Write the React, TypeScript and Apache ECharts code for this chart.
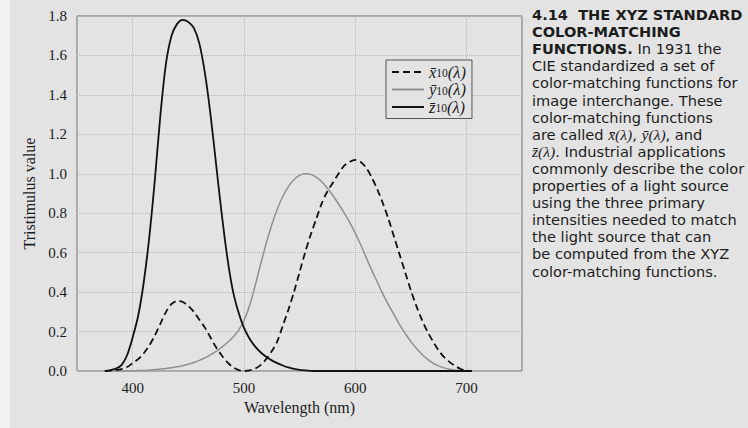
import React, { useEffect, useRef } from 'react';
import * as echarts from 'echarts';

const wavelengths = [375, 380, 385, 390, 395, 400, 405, 410, 415, 420, 425, 430, 435, 440, 445, 450, 455, 460, 465, 470, 475, 480, 485, 490, 495, 500, 505, 510, 515, 520, 525, 530, 535, 540, 545, 550, 555, 560, 565, 570, 575, 580, 585, 590, 595, 600, 605, 610, 615, 620, 625, 630, 635, 640, 645, 650, 655, 660, 665, 670, 675, 680, 685, 690, 695, 700, 705];
const xBar10 = [0, 0.002, 0.005, 0.01, 0.02, 0.04, 0.06, 0.09, 0.13, 0.18, 0.24, 0.3, 0.34, 0.355, 0.35, 0.33, 0.3, 0.26, 0.22, 0.17, 0.12, 0.08, 0.045, 0.02, 0.006, 0, 0.003, 0.012, 0.03, 0.06, 0.1, 0.15, 0.23, 0.31, 0.4, 0.5, 0.6, 0.69, 0.77, 0.85, 0.91, 0.955, 1.0, 1.04, 1.06, 1.07, 1.06, 1.03, 0.98, 0.92, 0.85, 0.77, 0.68, 0.59, 0.5, 0.41, 0.33, 0.26, 0.2, 0.15, 0.105, 0.07, 0.045, 0.025, 0.01, 0.003, 0];
const yBar10 = [0, 0, 0, 0, 0, 0.001, 0.002, 0.003, 0.005, 0.007, 0.01, 0.013, 0.017, 0.021, 0.027, 0.034, 0.043, 0.054, 0.067, 0.083, 0.1, 0.12, 0.143, 0.17, 0.205, 0.255, 0.33, 0.43, 0.54, 0.645, 0.74, 0.82, 0.885, 0.935, 0.97, 0.992, 1.0, 0.997, 0.983, 0.96, 0.928, 0.89, 0.848, 0.803, 0.755, 0.7, 0.64, 0.575, 0.51, 0.45, 0.39, 0.335, 0.285, 0.235, 0.19, 0.15, 0.115, 0.085, 0.06, 0.04, 0.026, 0.016, 0.009, 0.004, 0.001, 0, 0];
const zBar10 = [0, 0.005, 0.012, 0.03, 0.08, 0.17, 0.28, 0.45, 0.68, 0.97, 1.3, 1.56, 1.7, 1.76, 1.78, 1.77, 1.74, 1.66, 1.51, 1.3, 1.05, 0.8, 0.58, 0.41, 0.3, 0.22, 0.165, 0.125, 0.095, 0.072, 0.054, 0.04, 0.028, 0.018, 0.011, 0.006, 0.003, 0.001, 0, 0, 0, 0, 0, 0, 0, 0, 0, 0, 0, 0, 0, 0, 0, 0, 0, 0, 0, 0, 0, 0, 0, 0, 0, 0, 0, 0, 0];

const xTickLabels = [400, 500, 600, 700];
const seriesKeys = ['x', 'y', 'z'];

const captionLines = [
  '{b|4.14  THE XYZ STANDARD}',
  '{b|COLOR-MATCHING}',
  '{b|FUNCTIONS.}{r| In 1931 the}',
  '{r|CIE standardized a set of}',
  '{r|color-matching functions for}',
  '{r|image interchange. These}',
  '{r|color-matching functions}',
  '{r|are called }{m|x\u0304(\u03bb)}{r|, }{m|y\u0304(\u03bb)}{r|, and}',
  '{m|z\u0304(\u03bb)}{r|. Industrial applications}',
  '{r|commonly describe the color}',
  '{r|properties of a light source}',
  '{r|using the three primary}',
  '{r|intensities needed to match}',
  '{r|the light source that can}',
  '{r|be computed from the XYZ}',
  '{r|color-matching functions.}',
];

const BG = '#e3e3e3';
const INK = '#1c1c1c';
const SERIF = '"Liberation Serif", "DejaVu Serif", serif';
const SANS = '"DejaVu Sans", "Open Sans", sans-serif';

export default function App() {
  const ref = useRef<HTMLDivElement>(null);
  useEffect(() => {
    const chart = echarts.init(ref.current!, null, { renderer: 'svg' });
    const pairs = (vals: number[]) => wavelengths.map((w, i) => [w, vals[i]]);
    const lineH = 17.1;
    const capSize = 14.6;
    chart.setOption({
      animation: false,
      backgroundColor: BG,
      grid: {
        left: 77,
        right: 226,
        top: 16,
        bottom: 57,
        show: true,
        borderColor: '#6a6a6a',
        borderWidth: 1,
        backgroundColor: 'transparent',
      },
      xAxis: {
        type: 'value',
        min: 350,
        max: 750,
        splitNumber: 4,
        name: 'Wavelength (nm)',
        nameLocation: 'middle',
        nameGap: 28,
        nameTextStyle: { fontFamily: SERIF, fontSize: 16, color: INK },
        axisLine: { show: false },
        axisTick: { show: false },
        axisLabel: {
          fontFamily: SERIF,
          fontSize: 15,
          color: INK,
          margin: 9,
          formatter: (v: number) => (xTickLabels.includes(v) ? String(v) : ''),
        },
        splitLine: { show: true, lineStyle: { color: '#b8b8b8', type: [1, 1], width: 1 } },
      },
      yAxis: {
        type: 'value',
        min: 0,
        max: 1.8,
        interval: 0.2,
        name: 'Tristimulus value',
        nameLocation: 'middle',
        nameGap: 39,
        nameTextStyle: { fontFamily: SERIF, fontSize: 16, color: INK },
        axisLine: { show: false },
        axisTick: { show: false },
        axisLabel: {
          fontFamily: SERIF,
          fontSize: 15,
          color: INK,
          margin: 10,
          formatter: (v: number) => v.toFixed(1),
        },
        splitLine: { show: true, lineStyle: { color: '#b8b8b8', type: [1, 1], width: 1 } },
      },
      legend: {
        left: 386,
        top: 60,
        orient: 'vertical',
        itemWidth: 32,
        itemHeight: 12,
        itemGap: 0,
        padding: [3, 6, 3, 5],
        borderColor: '#555',
        borderWidth: 1,
        backgroundColor: BG,
        data: seriesKeys,
        itemStyle: { opacity: 0 },
        formatter: (n: string) => `{v|${n}\u0304}{s|10}{v|(\u03bb)}`,
        textStyle: {
          fontFamily: SERIF,
          fontSize: 16,
          color: INK,
          rich: {
            v: { fontFamily: SERIF, fontSize: 16.5, fontStyle: 'italic', color: INK, lineHeight: 14, verticalAlign: 'middle' },
            s: { fontFamily: SERIF, fontSize: 11.5, color: INK, lineHeight: 11, verticalAlign: 'bottom', padding: [4, 0, 0, 0] },
          },
        },
      },
      series: [
        {
          name: 'x',
          type: 'line',
          data: pairs(xBar10),
          symbol: 'none',
          smooth: 0.3,
          lineStyle: { color: '#111', width: 1.8, type: [7, 4] },
          itemStyle: { color: '#111' },
          z: 3,
        },
        {
          name: 'y',
          type: 'line',
          data: pairs(yBar10),
          symbol: 'none',
          smooth: 0.3,
          lineStyle: { color: '#909090', width: 1.5 },
          itemStyle: { color: '#909090' },
          z: 2,
        },
        {
          name: 'z',
          type: 'line',
          data: pairs(zBar10),
          symbol: 'none',
          smooth: 0.3,
          lineStyle: { color: '#111', width: 1.8 },
          itemStyle: { color: '#111' },
          z: 4,
        },
      ],
      graphic: [
        {
          type: 'rect',
          left: 0,
          top: 0,
          z: -10,
          shape: { width: 10, height: 428 },
          style: { fill: '#f2f2f2' },
          silent: true,
        },
        {
          type: 'text',
          x: 532,
          y: 6,
          style: {
            text: captionLines.join('\n'),
            fill: INK,
            font: `${capSize}px ${SANS}`,
            rich: {
              b: { fontFamily: SANS, fontSize: capSize, fontWeight: 'bold', lineHeight: lineH, fill: INK },
              r: { fontFamily: SANS, fontSize: capSize, lineHeight: lineH, fill: INK },
              m: { fontFamily: SERIF, fontSize: capSize + 1, fontStyle: 'italic', lineHeight: lineH, fill: INK },
            },
          },
        },
      ],
    });
    return () => chart.dispose();
  }, []);
  return (
    <div
      ref={ref}
      style={{ position: 'fixed', left: 0, top: 0, width: 748, height: 428, background: BG }}
    />
  );
}
